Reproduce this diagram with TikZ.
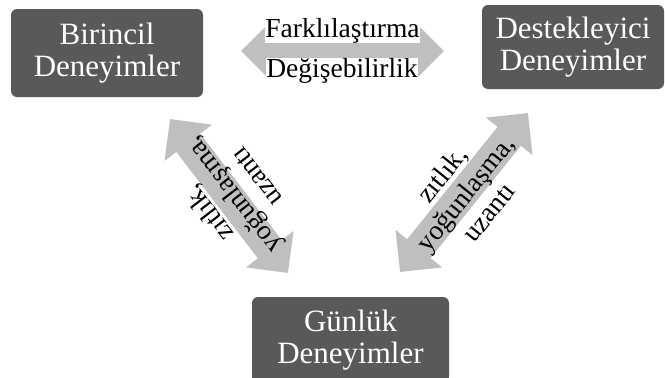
\documentclass[tikz,border=0pt]{standalone}
\usepackage{fontspec}
\setmainfont{Liberation Serif}
\usetikzlibrary{arrows.meta}
\definecolor{boxgray}{HTML}{595959}
\definecolor{arrgray}{HTML}{BFBFBF}
\begin{document}
\begin{tikzpicture}[x=1pt,y=-1pt,
  box/.style={fill=boxgray, rounded corners=6pt, text=white, align=center,
    font=\fontsize{31}{32}\selectfont, inner sep=0pt},
  lbl/.style={font=\fontsize{27.5}{30}\selectfont, align=center, inner sep=0pt},
  bigarrow/.style={draw=arrgray, line width=30pt,
    {Triangle[length=30pt,width=58pt]}-{Triangle[length=30pt,width=58pt]}}]
\useasboundingbox (0,0) rectangle (665,378);
% boxes
\node[box, minimum width=192pt, minimum height=88pt] (bir) at (107,53) {Birincil\\Deneyimler};
\node[box, minimum width=182pt, minimum height=84pt] (des) at (573,47) {Destekleyici\\Deneyimler};
\node[box, minimum width=197pt, minimum height=86pt] (gun) at (350.5,340) {Günlük\\Deneyimler};
% arrow end points
\coordinate (hL) at (241,51);
\coordinate (hR) at (444,51);
\coordinate (lT) at (170,119);
\coordinate (lB) at (288,273);
\coordinate (rB) at (400,272);
\coordinate (rT) at (528,113);
% arrows
\draw[bigarrow] (hL) -- (hR);
\draw[bigarrow] (lT) -- (lB);
\draw[bigarrow] (rB) -- (rT);
% labels
\node[lbl, fill=white, anchor=base] (fark) at (342.5,37) {Farklılaştırma};
\node[lbl, fill=white, anchor=base] (degi) at (342,77) {Değişebilirlik};
\node[lbl, rotate=127.5] (lefttxt) at (232,196) {zıtlık,\\yoğunlaşma,\\uzantı};
\node[lbl, rotate=51.2] (righttxt) at (465,193) {zıtlık,\\yoğunlaşma,\\uzantı};
\end{tikzpicture}
\end{document}
